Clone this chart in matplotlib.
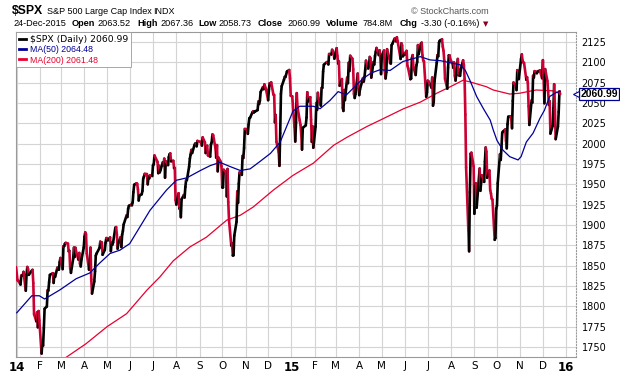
import matplotlib
matplotlib.use("Agg")
import matplotlib.pyplot as plt
import matplotlib.dates as mdates
from matplotlib.collections import LineCollection
from matplotlib.lines import Line2D
import numpy as np
import pandas as pd

# $SPX daily closes, 31-Dec-2013 .. 24-Dec-2015
close_2013 = [1848.36]
close_2014 = [
    1831.98, 1831.37, 1826.77, 1837.88, 1837.49, 1838.13, 1842.37, 1819.20, 1838.88, 1848.38,
    1845.89, 1838.70, 1843.80, 1844.86, 1828.46, 1790.29, 1781.56, 1792.50, 1774.20, 1794.19, 1782.59,
    1741.89, 1755.20, 1751.64, 1773.43, 1797.02, 1799.84, 1819.75, 1819.26, 1829.83, 1838.63,
    1840.76, 1828.75, 1839.78, 1836.25, 1847.61, 1845.12, 1845.16, 1854.29, 1859.45,
    1845.73, 1873.91, 1873.81, 1877.03, 1878.04, 1877.17, 1867.63, 1868.20, 1846.34, 1841.13,
    1858.83, 1872.25, 1860.77, 1872.01, 1866.52, 1857.44, 1865.62, 1852.56, 1849.04, 1857.62, 1872.34,
    1885.52, 1890.90, 1888.77, 1865.09, 1845.04, 1851.96, 1872.18, 1833.08, 1815.69, 1830.61,
    1842.98, 1862.31, 1864.85, 1871.89, 1879.55, 1875.39, 1878.61, 1863.40, 1869.43, 1878.33, 1883.95,
    1883.68, 1881.14, 1884.66, 1867.72, 1878.21, 1875.63, 1878.48, 1896.65, 1897.45, 1888.53,
    1870.85, 1877.86, 1885.08, 1872.83, 1888.03, 1892.49, 1900.53, 1911.91, 1909.78, 1920.03, 1923.57,
    1924.97, 1924.24, 1927.88, 1940.46, 1949.44, 1951.27, 1950.79, 1943.89, 1930.11, 1936.16,
    1937.78, 1941.99, 1956.98, 1959.48, 1962.87, 1962.61, 1949.98, 1959.53, 1957.22, 1960.96, 1960.23,
    1973.32, 1974.62, 1985.44, 1977.65, 1963.71, 1972.83, 1964.68, 1967.57, 1977.10, 1973.28, 1981.57,
    1958.12, 1978.22, 1973.63, 1983.53, 1987.01, 1987.98, 1978.34, 1978.91, 1969.95, 1970.07, 1930.67,
    1925.15, 1938.99, 1920.21, 1920.24, 1909.57, 1931.59, 1936.92, 1933.75, 1946.72, 1955.18,
    1955.06, 1971.74, 1981.60, 1986.51, 1992.37, 1988.40, 1997.92, 2000.02, 2000.12, 1996.74, 2003.37,
    2002.28, 2000.72, 1997.65, 2007.71, 2001.54, 1988.44, 1995.69, 1997.45, 1985.54, 1984.13,
    1998.98, 2001.57, 2011.36, 2010.40, 1994.29, 1982.77, 1998.30, 1965.99, 1982.85, 1977.80, 1972.29,
    1946.16, 1946.17, 1967.90, 1964.82, 1935.10, 1968.89, 1928.21, 1906.13, 1874.74, 1877.70, 1862.49,
    1862.76, 1886.76, 1904.01, 1941.28, 1927.11, 1950.82, 1964.58, 1961.63, 1985.05, 1982.30, 1994.65, 2018.05,
    2017.81, 2012.10, 2023.57, 2031.21, 2031.92, 2038.26, 2039.68, 2038.25, 2039.33, 2039.82,
    2041.32, 2051.80, 2048.72, 2052.75, 2063.50, 2069.41, 2067.03, 2072.83, 2067.56,
    2053.44, 2066.55, 2074.33, 2071.92, 2075.37, 2060.31, 2059.82, 2026.14, 2035.33, 2002.33, 1989.63,
    1972.74, 2012.89, 2061.23, 2070.65, 2078.54, 2082.17, 2081.88, 2088.77, 2090.57, 2080.35, 2058.90,
]
close_2015 = [
    2058.20, 2020.58, 2002.61, 2025.90, 2062.14, 2044.81, 2028.26, 2023.03, 2011.27, 1992.67,
    2019.42, 2022.55, 2032.12, 2063.15, 2051.82, 2057.09, 2029.55, 2002.16, 2021.25, 1994.99,
    2020.85, 2050.03, 2041.51, 2062.52, 2055.47, 2046.74, 2068.59, 2068.53, 2088.48, 2096.99,
    2100.34, 2099.68, 2097.45, 2110.30, 2109.66, 2115.48, 2113.86, 2110.74, 2104.50,
    2117.39, 2107.78, 2098.53, 2101.04, 2071.26, 2079.43, 2044.16, 2040.24, 2065.95, 2053.40, 2081.19,
    2074.28, 2099.50, 2089.27, 2108.10, 2104.42, 2091.50, 2061.05, 2056.15, 2061.02, 2086.24, 2067.89,
    2059.69, 2066.96, 2080.62, 2076.33, 2081.90, 2091.18, 2102.06, 2092.43, 2095.84, 2106.63,
    2104.99, 2081.18, 2100.40, 2097.29, 2107.96, 2112.93, 2117.69, 2108.92, 2114.76, 2106.85, 2085.51,
    2108.29, 2114.49, 2089.46, 2080.15, 2088.00, 2116.10, 2105.33, 2099.12, 2098.48, 2121.10,
    2122.73, 2129.20, 2127.83, 2125.85, 2130.82, 2126.06, 2104.20, 2123.48, 2120.79, 2107.39,
    2111.73, 2109.60, 2114.07, 2095.84, 2092.83, 2079.28, 2080.15, 2105.20, 2108.86, 2094.11, 2084.43,
    2096.29, 2100.44, 2121.24, 2109.99, 2122.85, 2124.20, 2108.58, 2102.31, 2101.49, 2057.64, 2063.11,
    2077.42, 2076.78, 2068.76, 2081.34, 2046.68, 2051.31, 2076.62, 2099.60, 2108.95, 2107.40, 2124.29,
    2126.64, 2128.28, 2119.21, 2114.15, 2102.15, 2079.65, 2067.64, 2093.25, 2108.57, 2108.63, 2103.84,
    2098.04, 2093.32, 2099.84, 2083.56, 2077.57, 2104.18, 2084.07, 2086.05, 2083.39, 2091.54,
    2102.44, 2096.92, 2079.61, 2035.73, 1970.89, 1893.21, 1867.61, 1940.51, 1987.66, 1988.87, 1972.18,
    1913.85, 1948.86, 1951.13, 1921.22, 1969.41, 1942.04, 1952.29, 1961.05, 1953.03, 1978.09,
    1995.31, 1990.20, 1958.03, 1966.97, 1942.74, 1938.76, 1932.24, 1931.34, 1881.77, 1884.09, 1920.03,
    1923.82, 1951.36, 1987.05, 1979.92, 1995.83, 2013.43, 2014.89, 2017.46, 2003.69, 1994.24, 2023.86,
    2033.11, 2033.66, 2030.77, 2018.94, 2052.51, 2075.15, 2071.18, 2065.89, 2090.35, 2089.41, 2079.36,
    2104.05, 2109.79, 2102.31, 2099.93, 2099.20, 2078.58, 2081.72, 2075.00, 2045.97, 2023.04,
    2053.19, 2050.44, 2083.58, 2081.24, 2089.17, 2086.59, 2089.14, 2088.87, 2090.11, 2080.41,
    2102.63, 2079.51, 2049.62, 2091.69, 2077.07, 2063.59, 2047.62, 2052.23, 2012.37, 2021.94,
    2043.41, 2073.07, 2041.89, 2005.55, 2021.15, 2038.97, 2064.29, 2060.99,
]
nyse_holidays = [
    "2014-01-01", "2014-01-20", "2014-02-17", "2014-04-18", "2014-05-26", "2014-07-04",
    "2014-09-01", "2014-11-27", "2014-12-25", "2015-01-01", "2015-01-19", "2015-02-16",
    "2015-04-03", "2015-05-25", "2015-07-03", "2015-09-07", "2015-11-26", "2015-12-25",
]

# moving averages
ma50_dates = [
    "2014-01-01", "2014-01-21", "2014-01-31", "2014-02-07", "2014-02-27", "2014-03-21", "2014-04-08",
    "2014-04-21", "2014-05-05", "2014-05-18", "2014-05-31", "2014-06-27", "2014-07-19", "2014-08-01",
    "2014-08-15", "2014-09-02", "2014-09-15", "2014-09-28", "2014-10-11", "2014-10-25", "2014-11-07",
    "2014-11-20", "2014-12-04", "2014-12-17", "2015-01-03", "2015-01-12", "2015-01-30", "2015-02-08",
    "2015-02-21", "2015-03-04", "2015-03-15", "2015-04-06", "2015-04-17", "2015-04-29", "2015-05-12",
    "2015-05-29", "2015-06-21", "2015-07-04", "2015-07-18", "2015-08-13", "2015-08-20", "2015-08-26",
    "2015-09-04", "2015-09-13", "2015-09-22", "2015-09-26", "2015-10-01", "2015-10-09", "2015-10-18",
    "2015-10-29", "2015-11-02", "2015-11-09", "2015-11-18", "2015-11-27", "2015-12-03", "2015-12-10",
    "2015-12-19", "2015-12-24",
]
ma50_values = [
    1792, 1813, 1813, 1809, 1820, 1834, 1841,
    1853, 1865, 1869, 1877, 1918, 1943, 1955,
    1958, 1967, 1973, 1977, 1972, 1967, 1969,
    1978, 1988, 2002, 2040, 2046, 2046, 2043,
    2053, 2064, 2060, 2080, 2087, 2091, 2090,
    2101, 2107, 2103, 2102, 2097, 2090, 2078,
    2058, 2043, 2029, 2017, 2004, 1992, 1984,
    1980, 1984, 2002, 2013, 2031, 2041, 2058,
    2063, 2064.48,
]
ma200_dates = [
    "2014-03-04", "2014-04-03", "2014-05-01", "2014-05-27", "2014-06-23", "2014-07-10", "2014-07-28",
    "2014-08-19", "2014-09-10", "2014-10-07", "2014-10-25", "2014-11-11", "2014-12-08", "2015-01-03",
    "2015-01-30", "2015-02-26", "2015-03-16", "2015-04-11", "2015-04-29", "2015-05-30", "2015-06-21",
    "2015-07-13", "2015-07-31", "2015-08-17", "2015-08-26", "2015-09-17", "2015-09-26", "2015-10-18",
    "2015-10-31", "2015-11-22", "2015-12-14", "2015-12-24",
]
ma200_values = [
    1735, 1754, 1775, 1791, 1820, 1836, 1856,
    1873, 1885, 1906, 1912, 1922, 1943, 1961,
    1976, 1998, 2008, 2021, 2029, 2043, 2051,
    2062, 2070, 2078, 2076, 2070, 2066, 2061,
    2062, 2066, 2065, 2061.48,
]
y_ticks = list(range(1750, 2126, 25))

UP = "black"
DOWN = "#cc0033"
NAVY = "#000099"
MA_RED = "#e8002f"
W, H = 620, 376

closes = np.array(close_2013 + close_2014 + close_2015)
days = pd.bdate_range("2013-12-31", "2015-12-24", freq="C", holidays=nyse_holidays)
n = min(len(days), len(closes))
x = mdates.date2num(days[:n])
y = closes[:n]

fig = plt.figure(figsize=(W / 100, H / 100), dpi=100)
fig.patch.set_facecolor("white")
ax = fig.add_axes([16 / W, 1 - 357 / H, 560 / W, 325 / H])

# price line: black on up days, red on down days
pts = np.column_stack([x, y]).reshape(-1, 1, 2)
segs = np.concatenate([pts[:-1], pts[1:]], axis=1)
cols = [UP if y[i + 1] >= y[i] else DOWN for i in range(n - 1)]
lc = LineCollection(segs, colors=cols, linewidths=1.9, capstyle="round", joinstyle="round", zorder=3)
ax.add_collection(lc)

ax.plot(mdates.date2num(pd.to_datetime(ma50_dates)), ma50_values, color=NAVY, lw=0.9, zorder=4)
ax.plot(mdates.date2num(pd.to_datetime(ma200_dates)), ma200_values, color=MA_RED, lw=0.9, zorder=2)

ax.set_xlim(mdates.date2num(pd.Timestamp("2013-12-31")), mdates.date2num(pd.Timestamp("2016-01-14")))
ax.set_ylim(1737.7, 2137.3)

months = pd.date_range("2014-01-01", "2016-01-01", freq="MS")
ax.set_xticks(mdates.date2num(months))
labels = [m.strftime("%y") if m.month == 1 else m.strftime("%b")[0] for m in months]
ax.set_xticklabels(labels, fontsize=7.5, family="DejaVu Sans")
for lab, m in zip(ax.get_xticklabels(), months):
    if m.month == 1:
        lab.set_fontweight("bold")
        lab.set_fontsize(8.5)
ax.set_yticks(y_ticks)
ax.yaxis.tick_right()
ax.tick_params(axis="y", length=0, pad=4, labelsize=7)
ax.tick_params(axis="x", length=0, pad=3)
ax.grid(True, color="#d4d4d4", lw=0.8, zorder=0)
ax.set_axisbelow(True)
for s in ["left", "top", "bottom"]:
    ax.spines[s].set_color("#9a9a9a")
    ax.spines[s].set_linewidth(0.8)
ax.spines["right"].set_color("#9a9a9a")
ax.spines["right"].set_linestyle(":")

handles = [Line2D([], [], color=UP, lw=2), Line2D([], [], color=NAVY, lw=2), Line2D([], [], color=MA_RED, lw=2)]
leg = ax.legend(handles, ["\\$SPX (Daily) 2060.99", "MA(50) 2064.48", "MA(200) 2061.48"],
                loc="upper left", bbox_to_anchor=(0, 1), borderaxespad=0, fontsize=6.7,
                handlelength=0.8, handletextpad=0.4, borderpad=0.3, labelspacing=0.15,
                fancybox=False, edgecolor="#9a9a9a", framealpha=1, labelcolor="linecolor")
leg.get_frame().set_linewidth(0.6)
leg.set_zorder(6)
for t in leg.get_texts()[1:]:
    t.set_family("Liberation Sans")
    t.set_fontsize(6.3)

# last value tag on the price axis
last = y[-1]
ax.annotate(f"{last:.2f}", xy=(1.0, last), xycoords=("axes fraction", "data"),
            xytext=(3, 0), textcoords="offset points", va="center", ha="left",
            fontsize=7.5, fontweight="bold", family="Liberation Sans", color="black",
            annotation_clip=False, zorder=7,
            bbox=dict(boxstyle="square,pad=0.12", fc="white", ec=NAVY, lw=0.9))
ax.plot([1.0], [last], marker="<", ms=5, mfc="white", mec=NAVY, mew=0.8,
        transform=ax.get_yaxis_transform(), clip_on=False, zorder=8)


def put(px, py, s, size=6.6, **kw):
    kw.setdefault("family", "Liberation Sans")
    fig.text(px / W, 1 - py / H, s, va="center", ha="left", fontsize=size, **kw)


put(12, 11, "\\$SPX", size=8.8, fontweight="bold")
put(47, 11, "S&P 500 Large Cap Index", size=6.5)
put(153, 11, "INDX", size=6.5)
put(411, 11, "© StockCharts.com", size=6.5, color="#555555")
row = [(13, "24-Dec-2015", "normal"), (72, "Open", "bold"), (97, "2063.52", "normal"),
       (137, "High", "bold"), (160, "2067.36", "normal"), (198, "Low", "bold"),
       (218, "2058.73", "normal"), (258, "Close", "bold"), (287, "2060.99", "normal"),
       (326, "Volume", "bold"), (363, "784.8M", "normal"), (400, "Chg", "bold"),
       (421, "-3.30 (-0.16%)", "normal")]
for px, s, wt in row:
    put(px, 24, s, fontweight=wt)
put(483, 24, "▼", size=5, color="#8b0020", family="DejaVu Sans")

fig.savefig("out.png", dpi=100, facecolor="white")
